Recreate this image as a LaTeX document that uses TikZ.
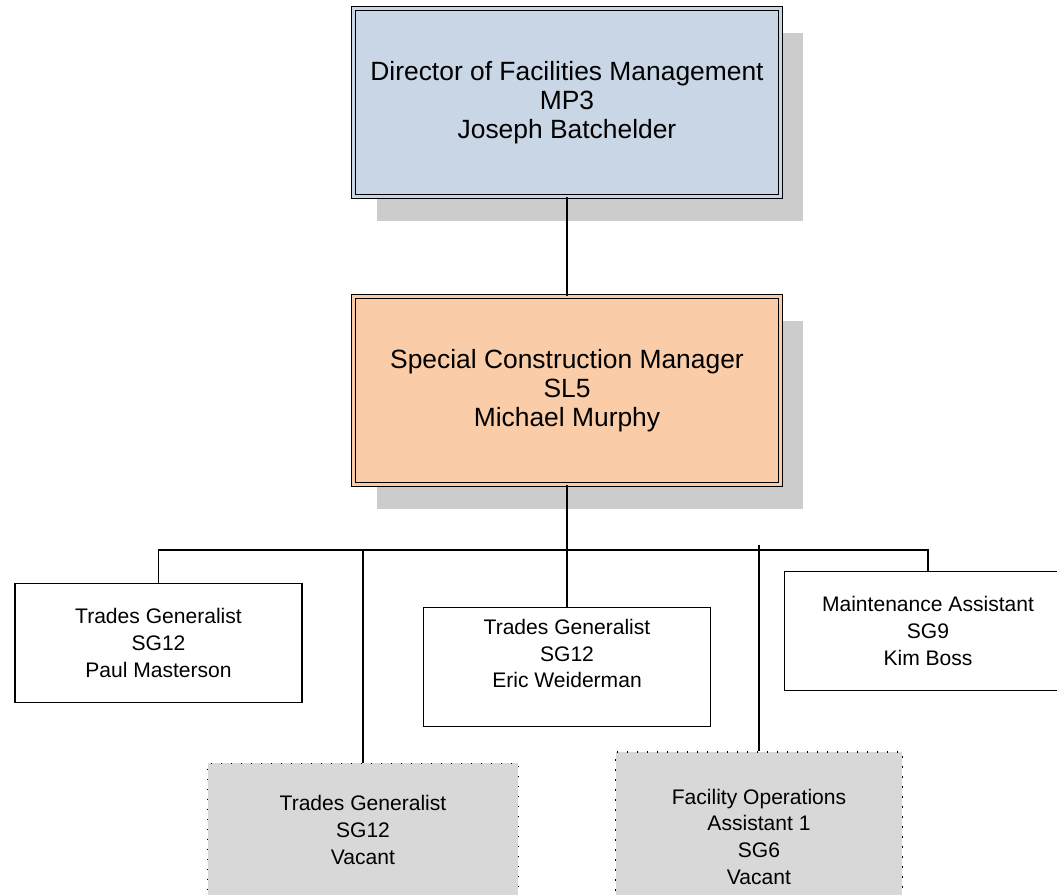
\documentclass[tikz,border=0pt]{standalone}
\usepackage{fontspec}
\setmainfont{Liberation Sans}
\usetikzlibrary{positioning, shadows}
\definecolor{dirblue}{RGB}{201,214,230}
\definecolor{mgrpeach}{RGB}{250,204,168}
\definecolor{shadowgray}{RGB}{204,204,204}
\definecolor{vacantgray}{RGB}{216,216,216}
\tikzset{x = 0.75pt, y = -0.75pt,
         every node/.style = {align = center},
         headbox/.style = {rectangle, draw, line width = 0.9pt,
                           double distance = 1.8pt,
                           minimum width = 320pt, minimum height = 141pt,
                           font = \fontsize{19.8}{21.75}\selectfont,
                           drop shadow = {shadow xshift = 17.25pt,
                                          shadow yshift = -18pt,
                                          fill = shadowgray, opacity = 1}},
         staffbox/.style = {rectangle, draw, line width = 1.1pt, fill = white,
                            minimum width = 215pt, minimum height = 89pt,
                            font = \fontsize{15.8}{20}\selectfont},
         vacantbox/.style = {staffbox, fill = vacantgray,
                             dash pattern = on 1.2pt off 6.3pt},
         orgline/.style = {line width = 1.1pt}}
\begin{document}
\begin{tikzpicture}
              \useasboundingbox (0,0) rectangle (1057,894);

              \node[headbox, fill = dirblue, double = dirblue]   (director)  at (567,102.5)
                   {Director of Facilities Management\\MP3\\Joseph Batchelder};
              \node[headbox, fill = mgrpeach, double = mgrpeach, on grid]
                   (manager) [below = 216pt of director]
                   {Special Construction Manager\\SL5\\Michael Murphy};

              \node[staffbox]   (paul)  at (158.5,643) {Trades Generalist\\SG12\\Paul Masterson};
              \node[staffbox]   (eric)  at (567,667)   {Trades Generalist\\SG12\\Eric Weiderman\\\mbox{}};
              \node[staffbox]   (kim)   at (928,631)   {Maintenance Assistant\\SG9\\Kim Boss};
              \node[vacantbox, minimum width = 233pt, minimum height = 100pt]
                   (tgvacant)  at (363,830)   {Trades Generalist\\SG12\\Vacant};
              \node[vacantbox, minimum height = 127pt]
                   (foavacant) at (759,836.5) {Facility Operations\\Assistant 1\\SG6\\Vacant};

              \coordinate (bus)    at (567,550);
              \coordinate (busfoa) at (759,545);

              \draw[orgline] (director) -- (manager);
              \draw[orgline] (manager)  -- (eric);
              \draw[orgline] (bus) -| (paul);
              \draw[orgline] (bus) -| (tgvacant);
              \draw[orgline] (bus) -| (kim);
              \draw[orgline] (busfoa) -- (foavacant);

            \end{tikzpicture}
\end{document}
